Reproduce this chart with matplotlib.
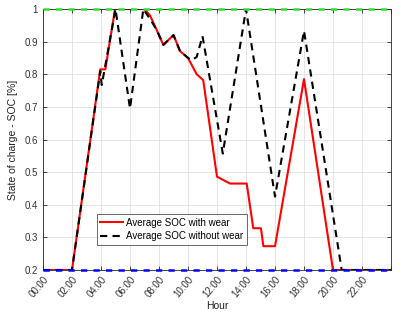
import numpy as np
import matplotlib.pyplot as plt

plt.rcParams['font.family'] = ['Liberation Sans', 'DejaVu Sans']

# average SOC with battery wear (hours, soc)
hours_wear = [0, 2.0, 3.95, 4.3, 4.97, 7.0, 7.38, 7.84, 8.3, 9.0, 9.45, 10.0, 10.6, 11.05,
              12.0, 12.9, 14.05, 14.5, 15.03, 15.2, 16.0, 18.0, 20.0, 24]
soc_wear = [0.2, 0.2, 0.815, 0.815, 1.0, 1.0, 0.98, 0.936, 0.89, 0.92, 0.871, 0.85, 0.80, 0.782,
            0.486, 0.465, 0.465, 0.328, 0.328, 0.273, 0.273, 0.785, 0.2, 0.2]

# average SOC without wear
hours_nowear = [0, 2.0, 3.95, 4.05, 4.35, 5.0, 6.0, 6.92, 7.5, 7.84, 8.3, 9.0, 9.45, 10.0,
                10.25, 10.6, 11.0, 12.4, 14.0, 16.0, 18.0, 20.6, 24]
soc_nowear = [0.2, 0.2, 0.81, 0.767, 0.84, 1.0, 0.695, 1.0, 0.961, 0.936, 0.89, 0.92, 0.871, 0.85,
              0.843, 0.853, 0.917, 0.557, 1.0, 0.425, 0.933, 0.2, 0.2]

soc_max = 1.0
soc_min = 0.2

xtick_hours = list(range(0, 24, 2))
xtick_labels = ['%02d:00' % h for h in xtick_hours]
ytick_vals = [0.2, 0.3, 0.4, 0.5, 0.6, 0.7, 0.8, 0.9, 1.0]
ytick_labels = ['0.2', '0.3', '0.4', '0.5', '0.6', '0.7', '0.8', '0.9', '1']

fig = plt.figure(figsize=(4.04, 3.17), dpi=100)
ax = fig.add_axes([43/404, 47/317, 348/404, 261/317])

ax.plot(hours_wear, soc_wear, '-', color='red', lw=1.5, label='Average SOC with wear')
ax.plot(hours_nowear, soc_nowear, '--', color='black', lw=1.5, dashes=(3.5, 2.5),
        label='Average SOC without wear')
# soc limits drawn on top of the frame
ax.plot([0, 24], [soc_max, soc_max], '--', color='#2ee02e', lw=1.8, dashes=(2.5, 2.5),
        clip_on=False, zorder=4)
ax.plot([0, 24], [soc_min, soc_min], '--', color='#0000ff', lw=1.8, dashes=(2.5, 2.5),
        clip_on=False, zorder=4)

ax.set_xlim(0, 24)
ax.set_ylim(0.2, 1.0)
ax.set_xticks(list(range(0, 25, 2)))
ax.set_xticklabels(xtick_labels + [''], rotation=50, ha='right', rotation_mode='anchor')
ax.set_yticks(ytick_vals)
ax.set_yticklabels(ytick_labels)

gray = '#262626'
ax.tick_params(direction='in', top=True, right=True, length=3, width=0.6,
               labelsize=7, colors=gray, labelcolor='#333333')
ax.tick_params(axis='x', pad=3)
for s in ax.spines.values():
    s.set_color(gray)
    s.set_linewidth(0.6)
ax.grid(True, color='#e0e0e0', lw=0.6)
ax.set_axisbelow(True)

ax.set_xlabel('Hour', fontsize=7.5, color='#222222', labelpad=1)
ax.set_ylabel('State of charge - SOC [%]', fontsize=7.5, color='#222222', labelpad=5)

leg = ax.legend(loc='lower left', bbox_to_anchor=(0.154, 0.096), fontsize=7,
                frameon=True, fancybox=False, handlelength=2.3, handletextpad=0.3,
                borderpad=0.4, labelspacing=0.35, borderaxespad=0)
leg.get_frame().set_edgecolor(gray)
leg.get_frame().set_linewidth(0.6)

fig.savefig('out.png', dpi=100)
